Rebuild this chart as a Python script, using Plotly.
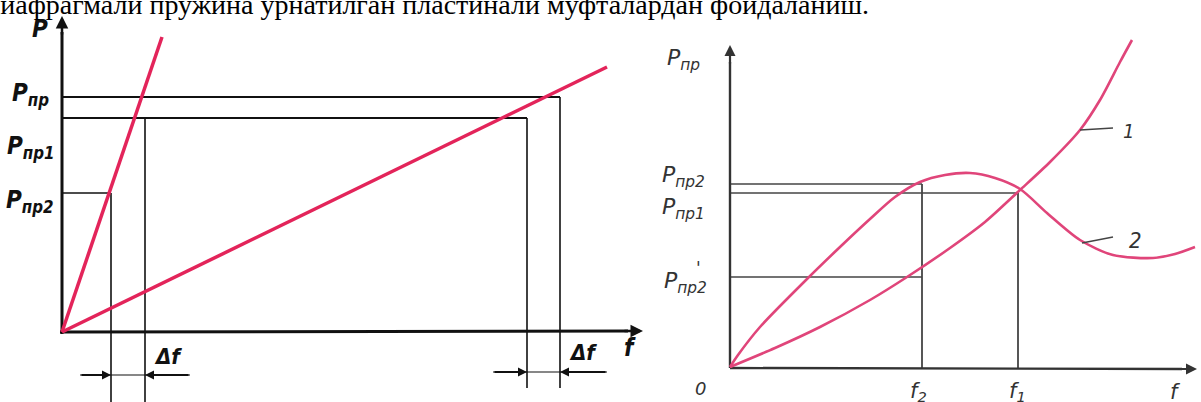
import plotly.graph_objects as go

RED_L = "#e3245a"
RED_R = "#e0457a"
INK = "#111111"
GREY = "#444444"
LABEL_FONT = "Liberation Sans Narrow, DejaVu Sans Condensed, Arial Narrow, sans-serif"

# ---------- left diagram: stiff and soft spring, P versus f ----------
stiff_f = [0, 100]
stiff_P = [0, 295]
soft_f = [0, 545]
soft_P = [0, 265]

P_np, P_np1, P_np2 = 235, 214, 139
f_stiff_np2, f_stiff_np = 49, 83      # wear gap for the stiff spring
f_soft_np1, f_soft_np = 465, 498      # same wear gap for the soft spring
left_bottom = -70
left_dim_bottom = -56
left_dim_y = [-43, -40]

# ---------- right diagram: characteristics 1 and 2 ----------
curve1_f = [0, 45, 90, 140, 177, 220, 255, 290, 320, 350, 370, 390, 402]
curve1_P = [0, 19, 40, 67, 90, 119, 145, 177, 205, 237, 267, 305, 327]
curve2_f = [0, 8, 30, 77, 110, 140, 165, 190, 215, 240, 265, 290, 317, 350, 383, 423, 445, 465]
curve2_P = [0, 12, 40, 88, 120, 148, 170, 185, 192, 194, 189, 178, 154, 127, 112, 109, 113, 120]
f2, f1 = 192, 288
Pr_np2, Pr_np1, Pr_np2_prime = 183, 174, 90

fig = go.Figure()


def seg(xs, ys, color, width, axes="left", shape="linear"):
    xa, ya = ("x", "y") if axes == "left" else ("x2", "y2")
    fig.add_trace(go.Scatter(
        x=xs, y=ys, mode="lines", xaxis=xa, yaxis=ya,
        line=dict(color=color, width=width, shape=shape, smoothing=0.8),
        hoverinfo="skip", showlegend=False))


annotations = []


def arrow(x, y, ax, ay, axes="left", width=2.5, head=2, size=1.0, color=INK):
    xa, ya = ("x", "y") if axes == "left" else ("x2", "y2")
    annotations.append(dict(
        x=x, y=y, ax=ax, ay=ay, xref=xa, yref=ya, axref=xa, ayref=ya,
        text="", showarrow=True, arrowhead=head, arrowsize=size,
        arrowwidth=width, arrowcolor=color, standoff=0))


def label(x, y, text, axes="left", size=22, color=INK, family=LABEL_FONT,
          italic=True, bold=False, xanchor="center"):
    xa, ya = ("x", "y") if axes == "left" else ("x2", "y2")
    t = text
    if bold:
        t = "<b>" + t + "</b>"
    if italic:
        t = "<i>" + t + "</i>"
    annotations.append(dict(
        x=x, y=y, xref=xa, yref=ya, text=t, showarrow=False,
        xanchor=xanchor, yanchor="middle",
        font=dict(size=size, color=color, family=family)))


# left: level lines and wear verticals
seg([0, f_soft_np], [P_np, P_np], INK, 2)
seg([0, f_soft_np1], [P_np1, P_np1], INK, 2)
seg([0, f_stiff_np2], [P_np2, P_np2], INK, 1.6)
seg([f_stiff_np2, f_stiff_np2], [P_np2, left_bottom], INK, 1.6)
seg([f_stiff_np, f_stiff_np], [P_np1, left_bottom], INK, 1.6)
seg([f_soft_np1, f_soft_np1], [P_np1, left_dim_bottom], INK, 1.6)
seg([f_soft_np, f_soft_np], [P_np, left_dim_bottom], INK, 1.6)

# left: axes
seg([0, 0], [-2, 300], INK, 3)
seg([-2, 566], [0, 1], INK, 3)
arrow(0, 316, 0, 296, width=2.5, head=2, size=1.0)
arrow(581, 1, 561, 1, width=2.5, head=2, size=1.0)

# left: spring characteristics
seg(stiff_f, stiff_P, RED_L, 3.5)
seg(soft_f, soft_P, RED_L, 3.5)

# left: wear dimension arrows
seg([18, 128], [left_dim_y[0]] * 2, INK, 1.2)
arrow(f_stiff_np2, left_dim_y[0], 18, left_dim_y[0], width=2, head=2, size=0.9)
arrow(f_stiff_np, left_dim_y[0], 128, left_dim_y[0], width=2, head=2, size=0.9)
seg([431, 545], [left_dim_y[1]] * 2, INK, 1.2)
arrow(f_soft_np1, left_dim_y[1], 431, left_dim_y[1], width=2, head=2, size=0.9)
arrow(f_soft_np, left_dim_y[1], 545, left_dim_y[1], width=2, head=2, size=0.9)

# left: labels
label(-22, 303, "P", size=24, bold=True)
label(-32, 238, "P<sub>пр</sub>", size=24, bold=True)
label(-31, 185, "P<sub>пр1</sub>", size=24, bold=True)
label(-32, 131, "P<sub>пр2</sub>", size=24, bold=True)
label(106, -24, "Δf", size=22, bold=True)
label(521, -20, "Δf", size=22, bold=True)
label(568, -16, "f", size=24, bold=True)

# right: level lines and verticals
seg([0, f2], [Pr_np2, Pr_np2], GREY, 1.3, "right")
seg([0, f1], [Pr_np1, Pr_np1], GREY, 1.3, "right")
seg([0, f2], [Pr_np2_prime, Pr_np2_prime], GREY, 1.3, "right")
seg([f2, f2], [Pr_np2, -1], GREY, 1.8, "right")
seg([f1, f1], [Pr_np1, -1], GREY, 1.8, "right")

# right: axes
seg([0, 0], [-1, 305], "#333333", 2.4, "right")
seg([0, 452], [-1, -2], "#333333", 2.4, "right")
arrow(0, 322, 0, 302, "right", width=2.2, head=2, size=1.0, color="#333333")
arrow(467, -2, 447, -2, "right", width=2.2, head=2, size=1.0, color="#333333")

# right: characteristics
seg(curve1_f, curve1_P, RED_R, 2.6, "right", "spline")
seg(curve2_f, curve2_P, RED_R, 2.6, "right", "spline")

# right: leaders for curve numbers
seg([350, 383], [237, 239], GREY, 1.3, "right")
seg([352, 383], [124, 130], GREY, 1.3, "right")
label(398, 236, "1", "right", size=20, color="#333333")
label(405, 127, "2", "right", size=22, color="#333333")

# right: labels
RF = "DejaVu Sans, sans-serif"
label(-47, 308, "P<sub>пр</sub>", "right", size=22, color="#333333", family=RF)
label(-47, 191, "P<sub>пр2</sub>", "right", size=22, color="#333333", family=RF)
label(-47, 159, "P<sub>пр1</sub>", "right", size=22, color="#333333", family=RF)
label(-45, 85, "P<sub>пр2</sub>", "right", size=22, color="#333333", family=RF)
label(-32, 99, "'", "right", size=17, color="#333333", family=RF)
label(-30, -21, "0", "right", size=18, color="#333333", family=RF)
label(188, -25, "f<sub>2</sub>", "right", size=21, color="#333333", family=RF)
label(287, -25, "f<sub>1</sub>", "right", size=21, color="#333333", family=RF)
label(445, -25, "f", "right", size=21, color="#333333", family=RF)

# caption line running off the top edge
annotations.append(dict(
    x=-16 / 1201, y=1 - 4.5 / 402, xref="paper", yref="paper",
    xanchor="left", yanchor="middle", showarrow=False,
    text="диафрагмали пружина ўрнатилган пластинали муфталардан фойдаланиш.",
    font=dict(size=28, color="#000000", family="Liberation Serif, serif")))

axis_common = dict(visible=False, showgrid=False, zeroline=False, fixedrange=True)
fig.update_layout(
    width=1201, height=402,
    margin=dict(l=0, r=0, t=0, b=0),
    paper_bgcolor="white", plot_bgcolor="rgba(0,0,0,0)",
    showlegend=False,
    xaxis=dict(domain=[0, 1], range=[-62, 1139], **axis_common),
    yaxis=dict(domain=[0, 1], range=[-70, 332], **axis_common),
    xaxis2=dict(domain=[0, 1], range=[-730, 471], anchor="y2", overlaying="x", **axis_common),
    yaxis2=dict(domain=[0, 1], range=[-35, 367], anchor="x2", overlaying="y", **axis_common),
    annotations=annotations,
)

fig.write_html("out.html")
